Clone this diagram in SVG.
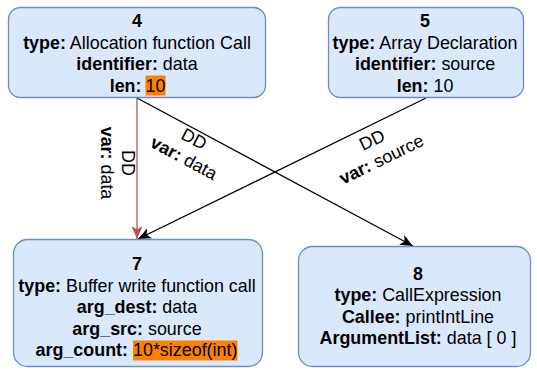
<svg xmlns="http://www.w3.org/2000/svg" width="537" height="370" viewBox="0 0 537 370">
<style>
.node{fill:#dae8fc;stroke:#6c8ebf;stroke-width:1.3}
text{font-family:"Liberation Sans",Arial,sans-serif;font-size:17.9px;fill:#000}
.c{text-anchor:middle}
.e{text-anchor:end}
.b{font-weight:bold}
.hl{fill:#ff8000}
.edge{fill:none;stroke:#000;stroke-width:1.3}
.red{stroke:#b85450}
</style>
<defs>
<marker id="ab" markerUnits="userSpaceOnUse" markerWidth="14" markerHeight="14" viewBox="0 0 14 14" refX="13" refY="7" orient="auto">
<path d="M0,1.5 L13,7 L0,12.5 L3.5,7 z" fill="#000"/>
</marker>
<marker id="ar" markerUnits="userSpaceOnUse" markerWidth="14" markerHeight="14" viewBox="0 0 14 14" refX="13" refY="7" orient="auto">
<path d="M0,1.5 L13,7 L0,12.5 L3.5,7 z" fill="#b85450"/>
</marker>
</defs>
<g id="connectors">
<line class="edge red" x1="137" y1="98" x2="137" y2="239" marker-end="url(#ar)"/>
<line class="edge" x1="137" y1="98" x2="413" y2="246" marker-end="url(#ab)"/>
<line class="edge" x1="426" y1="98" x2="138" y2="239" marker-end="url(#ab)"/>
<g transform="translate(128,163) rotate(90)">
<text class="c" x="0" y="6">DD</text>
<text class="c" x="0" y="27.5"><tspan class="b">var:</tspan> data</text>
</g>
<g transform="translate(194,139) rotate(28)">
<text class="c" x="0" y="6">DD</text>
<text class="c" x="0" y="27.5"><tspan class="b">var:</tspan> data</text>
</g>
<g transform="translate(372,140) rotate(-26)">
<text class="c" x="0" y="6">DD</text>
<text class="c" x="0" y="27.5"><tspan class="b">var:</tspan> source</text>
</g>
</g>
<g id="node4">
<rect class="node" x="8.5" y="7.5" width="257" height="90" rx="12"/>
<text class="c b" x="137" y="27">4</text>
<text class="c" x="137" y="48.5"><tspan class="b">type:</tspan> Allocation function Call</text>
<text class="c" x="137" y="70"><tspan class="b">identifier:</tspan> data</text>
<rect class="hl" x="145.5" y="75.5" width="20" height="20"/>
<text class="e b" x="141.5" y="91.5">len:</text>
<text x="145.5" y="91.5">10</text>
</g>
<g id="node5">
<rect class="node" x="328.5" y="7.5" width="195" height="90" rx="12"/>
<text class="c b" x="425" y="27">5</text>
<text class="c" x="425" y="48.5"><tspan class="b">type:</tspan> Array Declaration</text>
<text class="c" x="425" y="70"><tspan class="b">identifier:</tspan> source</text>
<text class="c" x="425" y="91.5"><tspan class="b">len:</tspan> 10</text>
</g>
<g id="node7">
<rect class="node" x="13.5" y="239.5" width="249" height="127" rx="14"/>
<text class="c b" x="137" y="270">7</text>
<text class="c" x="137" y="291.5"><tspan class="b">type:</tspan> Buffer write function call</text>
<text class="c" x="137" y="313"><tspan class="b">arg_dest:</tspan> data</text>
<text class="c" x="137" y="334.5"><tspan class="b">arg_src:</tspan> source</text>
<rect class="hl" x="133" y="340.5" width="104.5" height="20"/>
<text class="e b" x="128" y="356">arg_count:</text>
<text x="133" y="356">10*sizeof(int)</text>
</g>
<g id="node8">
<rect class="node" x="298.5" y="246.5" width="232" height="120" rx="14"/>
<text class="c b" x="418" y="279.5">8</text>
<text class="c" x="418" y="301"><tspan class="b">type:</tspan> CallExpression</text>
<text class="c" x="418" y="322.5"><tspan class="b">Callee:</tspan> printIntLine</text>
<text class="c" x="418" y="344"><tspan class="b">ArgumentList:</tspan> data [ 0 ]</text>
</g>
</svg>
